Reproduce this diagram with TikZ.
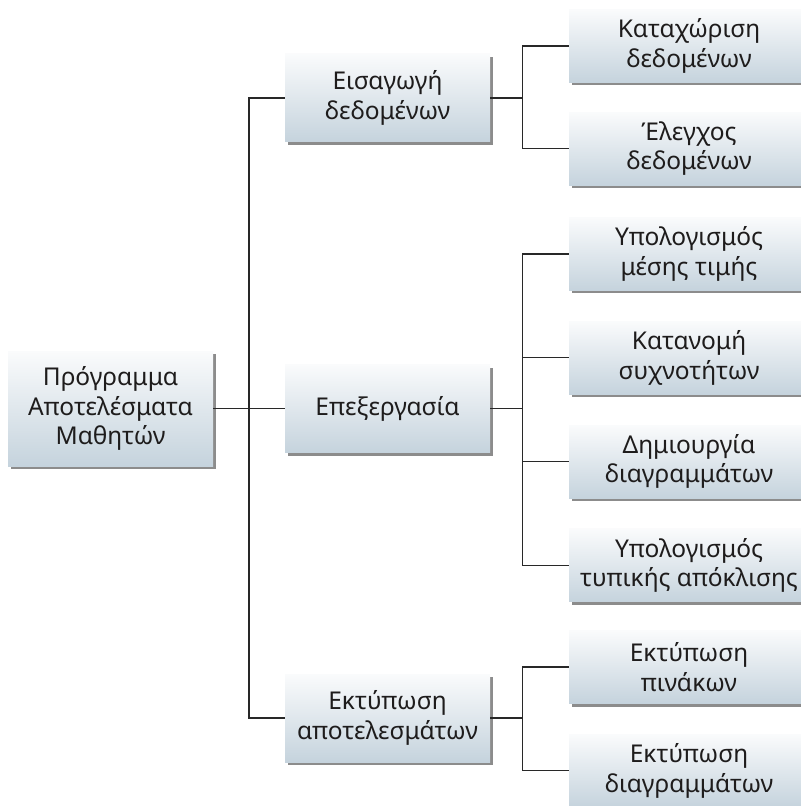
\documentclass[tikz,border=0pt]{standalone}
\usepackage{fontspec}
\setsansfont{Noto Sans}
\usetikzlibrary{positioning, shadows, calc}
\definecolor{boxtop}{RGB}{250,251,252}
\definecolor{boxbot}{RGB}{197,211,221}
\definecolor{ink}{RGB}{30,28,28}
\definecolor{wire}{RGB}{40,40,40}

\begin{document}
\begin{tikzpicture}[
		x=1pt, y=1pt,
		node distance=15pt,
		font=\sffamily\fontsize{12.25}{14.75}\selectfont,
		blockbox/.style={top color=boxtop, bottom color=boxbot, draw=none,
			align=center, inner sep=0pt, text=ink,
			drop shadow={shadow xshift=1.5pt, shadow yshift=-1.5pt, opacity=0.6, fill=black!75}},
		rootbox/.style={blockbox, minimum width=102.5pt, minimum height=57.5pt},
		stagebox/.style={blockbox, minimum width=102.5pt, minimum height=44pt},
		taskbox/.style={blockbox, minimum width=120pt, minimum height=36.5pt},
		conn/.style={draw=wire, line width=0.65pt}
		]
		
		\useasboundingbox (0,0) rectangle (400,-403);
		
		% ==========================================
		% Root
		% ==========================================
		\node (program) [rootbox] at (55.25,-204.25) {Πρόγραμμα\\Αποτελέσματα\\Μαθητών};
		
		% ==========================================
		% Stages
		% ==========================================
		\node (input) [stagebox] at (193.75,-49) {Εισαγωγή\\δεδομένων};
		\node (process) [stagebox] at (193.75,-204.25) {Επεξεργασία};
		\node (print) [stagebox] at (193.75,-359) {Εκτύπωση\\αποτελεσμάτων};
		
		% ==========================================
		% Tasks
		% ==========================================
		\node (enter) [taskbox] at (344.5,-23) {Καταχώριση\\δεδομένων};
		\node (check) [taskbox, below=14.5pt of enter] {Έλεγχος\\δεδομένων};
		
		\node (mean) [taskbox] at (344.5,-127) {Υπολογισμός\\μέσης τιμής};
		\node (freq) [taskbox, below=of mean] {Κατανομή\\συχνοτήτων};
		\node (charts) [taskbox, below=of freq] {Δημιουργία\\διαγραμμάτων};
		\node (stdev) [taskbox, below=of charts] {Υπολογισμός\\τυπικής απόκλισης};
		
		\node (tables) [taskbox] at (344.5,-333.5) {Εκτύπωση\\πινάκων};
		\node (plots) [taskbox, below=of tables] {Εκτύπωση\\διαγραμμάτων};
		
		% ==========================================
		% Connectors
		% ==========================================
		\coordinate (trunk) at ($(program.east)!0.5!(process.west)$);
		\draw[conn] (program.east) -- (process.west);
		\draw[conn] (input.west) -| (trunk) |- (print.west);
		
		\coordinate (j1) at ([xshift=16pt]input.east);
		\draw[conn] (input.east) -- (j1);
		\draw[conn] (enter.west) -| (j1) |- (check.west);
		
		\coordinate (j2) at ([xshift=16pt]process.east);
		\draw[conn] (process.east) -- (j2);
		\draw[conn] (mean.west) -| (j2) |- (stdev.west);
		\draw[conn] (freq.west) -- (freq.west -| j2);
		\draw[conn] (charts.west) -- (charts.west -| j2);
		
		\coordinate (j3) at ([xshift=16pt]print.east);
		\draw[conn] (print.east) -- (j3);
		\draw[conn] (tables.west) -| (j3) |- (plots.west);
		
	\end{tikzpicture}
\end{document}
